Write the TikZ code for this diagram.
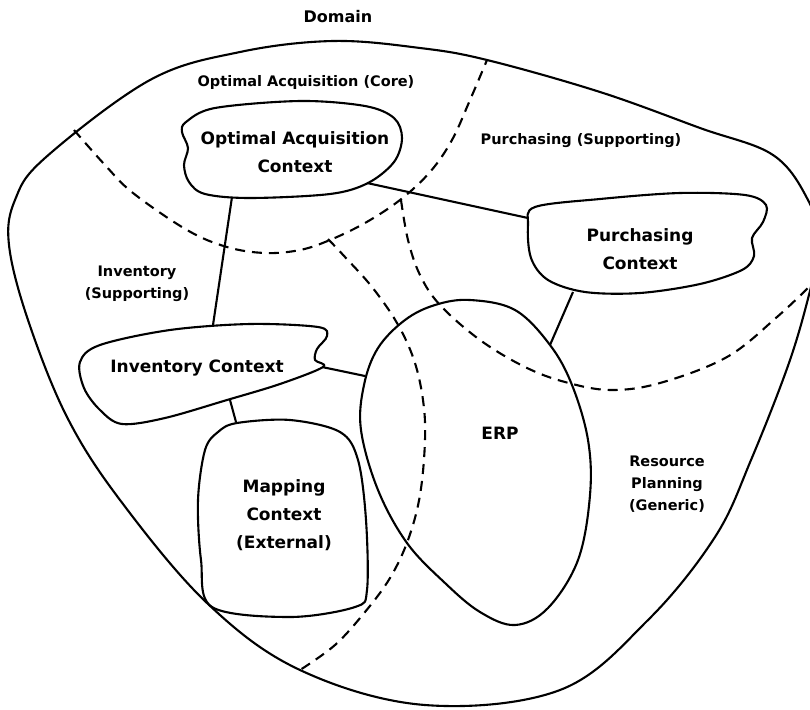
\documentclass[tikz,border=0pt]{standalone}
\usepackage{fontspec}
\setmainfont{DejaVu Sans}
\begin{document}
\begin{tikzpicture}[x=1pt,y=-1pt,
  solidline/.style={draw=black,line width=2.1pt,line join=round,line cap=round},
  boundary/.style={draw=black,line width=2.1pt,dash pattern=on 10pt off 7pt},
  link/.style={draw=black,line width=2.1pt},
  ctx/.style={font=\bfseries\fontsize{17}{28}\selectfont,align=center,inner sep=0pt},
  region/.style={font=\bfseries\fontsize{14.5}{22}\selectfont,align=center,inner sep=0pt},
  title/.style={font=\bfseries\fontsize{16}{20}\selectfont,inner sep=0pt}]
\clip (0,0) rectangle (810,709);
\fill[white] (0,0) rectangle (810,709);
% domain outline
\draw[solidline] plot[smooth cycle,tension=0.6] coordinates {(333,41) (420,48) (487,60) (600,92) (700,128) (773,155) (808,200) (820,243) (812,283) (790,360) (751,460) (715,537) (648,620) (560,690) (425,705) (300,670) (207,603) (120,500) (67,417) (28,320) (9,245) (15,200) (45,158) (150,80) (240,52)};
% subdomain boundaries
\draw[boundary] plot[smooth,tension=0.6] coordinates {(74,130) (105,165) (133,193) (187,230) (227,247) (265,253) (300,250) (330,240) (365,223) (400,200) (430,172) (452,140) (470,100) (487,60)};
\draw[boundary] plot[smooth,tension=0.6] coordinates {(328,239) (345,257) (372,287) (397,323) (414,360) (423,400) (425,440) (420,495) (408,540) (390,578) (365,612) (335,645) (300,670)};
\draw[boundary] plot[smooth,tension=0.6] coordinates {(401,200) (408,240) (420,275) (440,305) (480,340) (525,367) (565,382) (610,390) (660,383) (727,357) (777,317) (812,284)};
% contexts
\draw[solidline] plot[smooth cycle,tension=0.55] coordinates {(186,122) (215,108) (300,101) (365,106) (394,118) (402,138) (394,162) (368,183) (330,194) (250,198) (205,194) (189,182) (184,165) (188,148) (182,132)};
\draw[solidline] plot[smooth cycle,tension=0.55] coordinates {(535,207) (600,199) (680,193) (745,195) (766,205) (763,222) (752,238) (754,256) (742,270) (700,284) (640,293) (585,292) (548,280) (531,258) (528,225)};
\draw[solidline] plot[smooth cycle,tension=0.55] coordinates {(100,345) (170,330) (250,324) (318,327) (327,336) (317,349) (315,360) (323,367) (280,384) (227,400) (165,418) (122,424) (100,410) (84,388) (80,362)};
\draw[solidline] plot[smooth cycle,tension=0.55] coordinates {(237,423) (290,420) (340,432) (358,460) (366,520) (367,590) (355,607) (290,617) (212,607) (201,560) (198,500) (205,450) (218,432)};
\draw[solidline] plot[smooth cycle,tension=0.6] coordinates {(470,300) (515,310) (550,345) (572,385) (588,440) (590,495) (578,560) (548,608) (515,625) (480,612) (445,583) (407,543) (378,490) (361,430) (364,385) (378,348) (405,320) (435,305)};
% connector end points
\coordinate (oacS) at (232,197);
\coordinate (invN) at (213,325);
\coordinate (oacE) at (367,183);
\coordinate (purW) at (528,218);
\coordinate (invE) at (322,367);
\coordinate (erpW) at (365,376);
\coordinate (invS) at (230,400);
\coordinate (mapN) at (236,422);
\coordinate (purS) at (573,292);
\coordinate (erpNE) at (550,345);
\draw[link] (oacS) -- (invN);
\draw[link] (oacE) -- (purW);
\draw[link] (invE) -- (erpW);
\draw[link] (invS) -- (mapN);
\draw[link] (purS) -- (erpNE);
% labels
\node[title] (domT) at (338,17) {Domain};
\node[region] (coreT) at (306,82) {Optimal Acquisition (Core)};
\node[region] (purRT) at (581,141) {Purchasing (Supporting)};
\node[region] (invRT) at (137,284) {Inventory\\(Supporting)};
\node[region] (resRT) at (667,484) {Resource\\Planning\\(Generic)};
\node[ctx] (oacT) at (295,152) {Optimal Acquisition\\Context};
\node[ctx] (purT) at (640,249) {Purchasing\\Context};
\node[ctx] (invT) at (197,368) {Inventory Context};
\node[ctx] (mapT) at (284,515) {Mapping\\Context\\(External)};
\node[ctx] (erpT) at (500,433) {ERP};
\end{tikzpicture}
\end{document}
